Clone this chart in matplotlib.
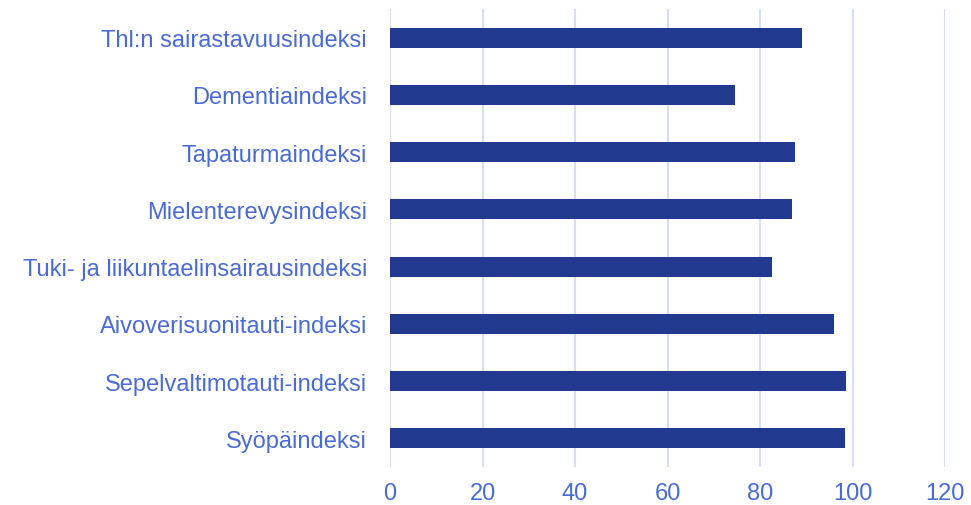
import matplotlib.pyplot as plt

categories = ["Thl:n sairastavuusindeksi", "Dementiaindeksi", "Tapaturmaindeksi",
              "Mielenterevysindeksi", "Tuki- ja liikuntaelinsairausindeksi",
              "Aivoverisuonitauti-indeksi", "Sepelvaltimotauti-indeksi", "Syöpäindeksi"]
values = [89.0, 74.5, 87.5, 86.9, 82.5, 96.0, 98.5, 98.3]
xticks = [0, 20, 40, 60, 80, 100, 120]

text_color = "#4a6bd6"
bar_color = "#213a8f"
grid_color = "#d6def7"

plt.rcParams['font.family'] = ['Liberation Sans', 'DejaVu Sans']

fig = plt.figure(figsize=(9.71, 5.06), dpi=100)
ax = fig.add_axes([390/971, 1 - 468/506, (945 - 390)/971, 458/506])

pos = list(range(len(categories)))
ax.barh(pos, values, height=0.35, color=bar_color, zorder=3)
ax.set_yticks(pos)
ax.set_yticklabels(categories)
ax.set_ylim(len(categories) - 0.5, -0.5)
ax.set_xlim(0, 120)
ax.set_xticks(xticks)

ax.grid(axis="x", color=grid_color, linewidth=1.5, zorder=0)
for s in ax.spines.values():
    s.set_visible(False)
ax.tick_params(axis="both", length=0, labelsize=17, colors=text_color)
ax.tick_params(axis="y", pad=16.5)
ax.tick_params(axis="x", pad=11)

fig.savefig("out.png", dpi=100)
